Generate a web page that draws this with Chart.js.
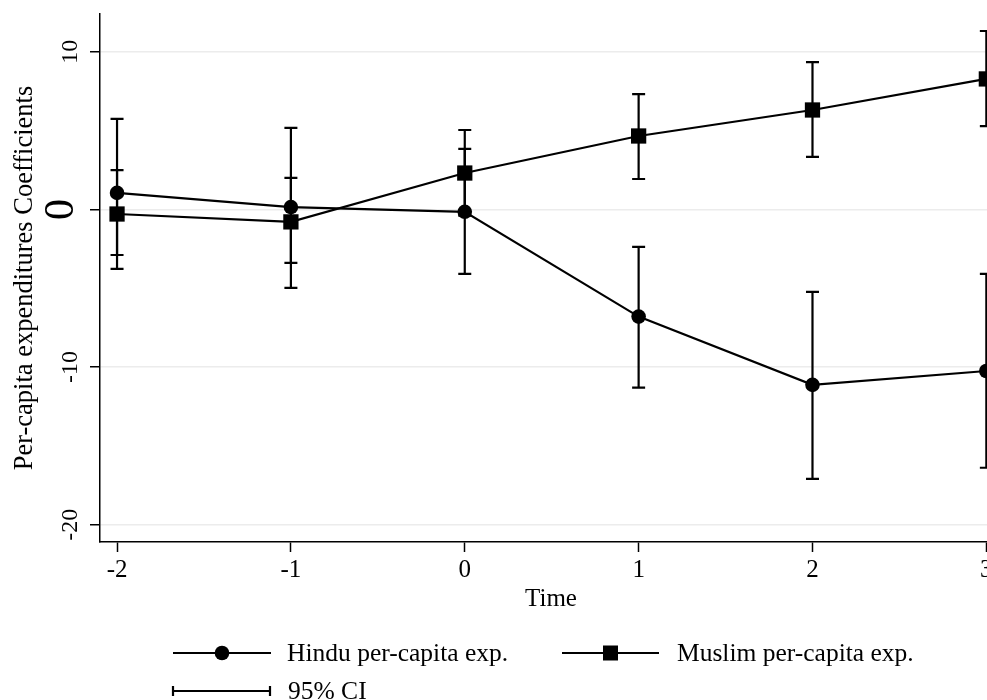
<!DOCTYPE html>
<html>
<head>
<meta charset="utf-8">
<script src="https://cdn.jsdelivr.net/npm/chart.js@4/dist/chart.umd.min.js"></script>
<style>
  body { margin: 0; background: #fff; overflow: hidden; }
  canvas { display: block; }
</style>
</head>
<body>
<canvas id="myChart" width="1020" height="700"></canvas>
<script>
var time_points = [-2, -1, 0, 1, 2, 3];
var hindu_coef = [1.05, 0.15, -0.15, -6.8, -11.13, -10.25];
var hindu_low = [-3.77, -4.98, -4.09, -11.3, -17.09, -16.39];
var hindu_high = [5.74, 5.17, 3.84, -2.38, -5.23, -4.09];
var muslim_coef = [-0.29, -0.79, 2.31, 4.66, 6.31, 8.28];
var muslim_low = [-2.89, -3.39, -0.4, 1.93, 3.33, 5.29];
var muslim_high = [2.5, 2.0, 5.04, 7.32, 9.35, 11.32];
var x_ticks = [-2, -1, 0, 1, 2, 3];
var y_ticks = [-20, -10, 0, 10];

var serif = "'Liberation Serif', 'Times New Roman', serif";

function toXY(ys){
  var out = [];
  for(var i = 0; i < time_points.length; i++){
    out.push({x: time_points[i], y: ys[i]});
  }
  return out;
}

// 95% CI caps, drawn under the lines
var ciPlugin = {
  id: "ci",
  beforeDatasetsDraw: function(chart){
    var ctx = chart.ctx;
    var xs = chart.scales.x, ys = chart.scales.y;
    var sets = [[hindu_low, hindu_high], [muslim_low, muslim_high]];
    ctx.save();
    ctx.strokeStyle = "#000";
    ctx.lineWidth = 2.2;
    for(var s = 0; s < sets.length; s++){
      for(var i = 0; i < time_points.length; i++){
        var px = xs.getPixelForValue(time_points[i]);
        var y1 = ys.getPixelForValue(sets[s][0][i]);
        var y2 = ys.getPixelForValue(sets[s][1][i]);
        ctx.beginPath();
        ctx.moveTo(px, y1); ctx.lineTo(px, y2);
        ctx.moveTo(px - 6.5, y1); ctx.lineTo(px + 6.5, y1);
        ctx.moveTo(px - 6.5, y2); ctx.lineTo(px + 6.5, y2);
        ctx.stroke();
      }
    }
    ctx.restore();
  }
};

// rotated y labels, axis titles and the legend
var textPlugin = {
  id: "texts",
  afterDraw: function(chart){
    var ctx = chart.ctx;
    var ys = chart.scales.y;
    ctx.save();
    ctx.fillStyle = "#000";
    ctx.textAlign = "center";
    ctx.textBaseline = "alphabetic";
    for(var i = 0; i < y_ticks.length; i++){
      var py = ys.getPixelForValue(y_ticks[i]);
      var big = y_ticks[i] == 0;
      ctx.save();
      ctx.translate(big ? 73 : 77, py);
      ctx.rotate(-Math.PI / 2);
      ctx.font = (big ? 42 : 24) + "px " + serif;
      ctx.fillText(String(y_ticks[i]), 0, 0);
      ctx.restore();
    }

    ctx.save();
    ctx.translate(32, (chart.chartArea.top + chart.chartArea.bottom) / 2);
    ctx.rotate(-Math.PI / 2);
    ctx.font = "26.5px " + serif;
    ctx.fillText("Per-capita expenditures Coefficients", 0, 0);
    ctx.restore();

    ctx.font = "25px " + serif;
    ctx.fillText("Time", 551, 606);

    // legend
    ctx.textAlign = "left";
    ctx.strokeStyle = "#000";
    ctx.lineWidth = 2.2;
    var r1 = 653, r2 = 691;
    ctx.beginPath();
    ctx.moveTo(173, r1); ctx.lineTo(271, r1);
    ctx.moveTo(562, r1); ctx.lineTo(659, r1);
    ctx.moveTo(173, r2); ctx.lineTo(270, r2);
    ctx.moveTo(173, r2 - 5); ctx.lineTo(173, r2 + 5);
    ctx.moveTo(270, r2 - 5); ctx.lineTo(270, r2 + 5);
    ctx.stroke();
    ctx.beginPath();
    ctx.arc(222, r1, 7.3, 0, Math.PI * 2);
    ctx.fill();
    ctx.fillRect(603, r1 - 7.5, 15, 15);
    ctx.font = "25.5px " + serif;
    ctx.fillText("Hindu per-capita exp.", 287, 661);
    ctx.fillText("Muslim per-capita exp.", 677, 661);
    ctx.fillText("95% CI", 288, 699);
    ctx.restore();
  }
};

var ctx_chart = document.getElementById("myChart").getContext("2d");

var chart = new Chart(ctx_chart, {
  type: "line",
  data: {
    datasets: [
      {
        label: "Hindu per-capita exp.",
        data: toXY(hindu_coef),
        borderColor: "#000",
        backgroundColor: "#000",
        borderWidth: 2.2,
        pointStyle: "circle",
        pointRadius: 7.3,
        pointBorderWidth: 0,
        tension: 0
      },
      {
        label: "Muslim per-capita exp.",
        data: toXY(muslim_coef),
        borderColor: "#000",
        backgroundColor: "#000",
        borderWidth: 2.2,
        pointStyle: "rect",
        pointRadius: 10.8,
        pointBorderWidth: 0,
        tension: 0
      }
    ]
  },
  plugins: [ciPlugin, textPlugin],
  options: {
    responsive: false,
    animation: false,
    layout: { padding: { top: 14, right: 18, left: 0, bottom: 0 } },
    plugins: {
      legend: { display: false },
      tooltip: { enabled: false }
    },
    scales: {
      x: {
        type: "linear",
        min: -2.098,
        max: 3.09,
        afterBuildTicks: function(s){ s.ticks = x_ticks.map(function(v){ return {value: v}; }); },
        afterFit: function(s){ s.height = 158; },
        grid: { drawOnChartArea: false, drawTicks: true, tickLength: 10, tickColor: "#000", tickWidth: 1.5 },
        border: { color: "#000", width: 1.5 },
        ticks: {
          color: "#000",
          padding: 3,
          font: { family: serif, size: 25 },
          callback: function(v){ return String(v); }
        }
      },
      y: {
        type: "linear",
        min: -21.1,
        max: 12.4,
        afterBuildTicks: function(s){ s.ticks = y_ticks.map(function(v){ return {value: v}; }); },
        afterFit: function(s){ s.width = 100; },
        grid: { color: "#ececec", lineWidth: 1.5, drawTicks: true, tickLength: 10, tickColor: "#000", tickWidth: 1.5 },
        border: { color: "#000", width: 1.5 },
        ticks: { display: false }
      }
    }
  }
});
</script>
</body>
</html>
